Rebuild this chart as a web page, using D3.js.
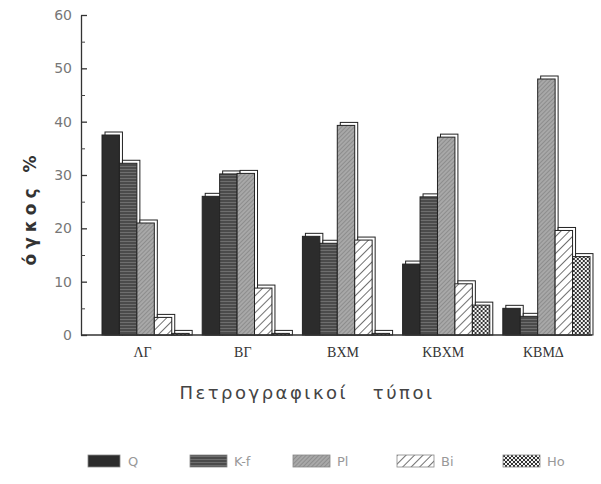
<!DOCTYPE html>
<html>
<head>
<meta charset="utf-8">
<script src="https://cdn.jsdelivr.net/npm/d3@7"></script>
<style>
  body { margin: 0; background: #fff; }
  svg { display: block; }
</style>
</head>
<body>
<div id="chart"></div>
<script>
// ---------- DATA ----------
const categories = ["ΛΓ", "ΒΓ", "ΒΧΜ", "ΚΒΧΜ", "ΚΒΜΔ"];
const minerals = ["Q", "K-f", "Pl", "Bi", "Ho"];
const qValues = [37.5, 26, 18.5, 13.3, 5];
const kfValues = [32.2, 30.2, 17.2, 25.9, 3.5];
const plValues = [21, 30.3, 39.3, 37.1, 48];
const biValues = [3.3, 8.8, 17.8, 9.6, 19.6];
const hoValues = [0.3, 0.3, 0.3, 5.6, 14.7];
const yTicks = [0, 10, 20, 30, 40, 50, 60];
const yMinorTicks = [5, 15, 25, 35, 45, 55];

const series = [qValues, kfValues, plValues, biValues, hoValues];
const table = categories.map((c, i) => ({
  cat: c,
  vals: minerals.map((m, j) => ({ key: m, value: series[j][i] }))
}));

// ---------- LAYOUT ----------
const width = 601;
const height = 484;

const svg = d3.select("#chart").append("svg")
  .attr("width", width)
  .attr("height", height);

const defs = svg.append("defs");

// K-f: dark with fine horizontal lines
const pKf = defs.append("pattern").attr("id", "pat-kf")
  .attr("patternUnits", "userSpaceOnUse").attr("width", 4).attr("height", 3);
pKf.append("rect").attr("width", 4).attr("height", 3).attr("fill", "#4b4b4b");
pKf.append("line").attr("x1", 0).attr("x2", 4).attr("y1", 1.5).attr("y2", 1.5)
  .attr("stroke", "#6e6e6e").attr("stroke-width", 1);

// Pl: mid grey fine diagonal
const pPl = defs.append("pattern").attr("id", "pat-pl")
  .attr("patternUnits", "userSpaceOnUse").attr("width", 3).attr("height", 3)
  .attr("patternTransform", "rotate(45)");
pPl.append("rect").attr("width", 3).attr("height", 3).attr("fill", "#a8a8a8");
pPl.append("line").attr("x1", 0).attr("x2", 0).attr("y1", 0).attr("y2", 3)
  .attr("stroke", "#7a7a7a").attr("stroke-width", 1.2);

// Bi: white with black diagonal hatch
const pBi = defs.append("pattern").attr("id", "pat-bi")
  .attr("patternUnits", "userSpaceOnUse").attr("width", 6).attr("height", 6)
  .attr("patternTransform", "rotate(45)");
pBi.append("rect").attr("width", 6).attr("height", 6).attr("fill", "#fff");
pBi.append("line").attr("x1", 0).attr("x2", 0).attr("y1", 0).attr("y2", 6)
  .attr("stroke", "#333").attr("stroke-width", 1.4);

// Ho: checker dots
const pHo = defs.append("pattern").attr("id", "pat-ho")
  .attr("patternUnits", "userSpaceOnUse").attr("width", 4).attr("height", 4);
pHo.append("rect").attr("width", 4).attr("height", 4).attr("fill", "#f4f4f4");
pHo.append("rect").attr("width", 2).attr("height", 2).attr("fill", "#333");
pHo.append("rect").attr("x", 2).attr("y", 2).attr("width", 2).attr("height", 2).attr("fill", "#333");

const fills = {
  "Q": "#2c2c2c",
  "K-f": "url(#pat-kf)",
  "Pl": "url(#pat-pl)",
  "Bi": "url(#pat-bi)",
  "Ho": "url(#pat-ho)"
};

// scales
const y = d3.scaleLinear().domain([0, 60]).range([335, 15]);
const x0 = d3.scaleBand().domain(categories).range([96, 596])
  .paddingInner(0.13).paddingOuter(0.06);
const x1 = d3.scaleBand().domain(minerals).range([0, x0.bandwidth()]);

// ---------- BARS ----------
const groups = svg.append("g").selectAll("g")
  .data(table).enter().append("g")
  .attr("transform", d => `translate(${x0(d.cat)},0)`);

groups.each(function (d) {
  const g = d3.select(this);
  d.vals.forEach(v => {
    const bx = x1(v.key);
    const by = y(v.value);
    const h = y(0) - by;
    // offset frame (drop shadow look)
    g.append("rect")
      .attr("x", bx + 3).attr("y", by - 3)
      .attr("width", x1.bandwidth()).attr("height", h + 3)
      .attr("fill", "#fff").attr("stroke", "#222").attr("stroke-width", 1);
    g.append("rect")
      .attr("x", bx).attr("y", by)
      .attr("width", x1.bandwidth()).attr("height", h)
      .attr("fill", fills[v.key]).attr("stroke", "#222").attr("stroke-width", 1);
  });
});

// ---------- AXES ----------
const yAxis = svg.append("g")
  .attr("transform", "translate(81,0)")
  .call(d3.axisLeft(y).tickValues(yTicks).tickSizeInner(-6).tickSizeOuter(0).tickPadding(9));
yAxis.select(".domain").attr("stroke", "#333").attr("stroke-width", 1.3);
yAxis.selectAll(".tick line").attr("stroke", "#333").attr("stroke-width", 1.3);
yAxis.selectAll(".tick text")
  .attr("font-family", "DejaVu Sans").attr("font-size", 14).attr("fill", "#777");

const yMinor = svg.append("g")
  .attr("transform", "translate(81,0)")
  .call(d3.axisLeft(y).tickValues(yMinorTicks).tickSizeInner(-4).tickSizeOuter(0).tickFormat(""));
yMinor.select(".domain").remove();
yMinor.selectAll(".tick line").attr("stroke", "#444");

svg.append("line")
  .attr("x1", 81).attr("x2", 592)
  .attr("y1", y(0)).attr("y2", y(0))
  .attr("stroke", "#333").attr("stroke-width", 1.3);

svg.append("g").selectAll("text")
  .data(categories).enter().append("text")
  .attr("x", d => x0(d) + x0.bandwidth() / 2 - 3)
  .attr("y", 357)
  .attr("text-anchor", "middle")
  .attr("font-family", "Liberation Serif")
  .attr("font-size", 14)
  .attr("fill", "#333")
  .text(d => d);

// axis titles
svg.append("text")
  .attr("transform", "translate(36,208) rotate(-90)")
  .attr("text-anchor", "middle")
  .attr("font-family", "DejaVu Sans")
  .attr("font-weight", "bold")
  .attr("font-size", 17)
  .attr("letter-spacing", 5)
  .attr("fill", "#333")
  .text("όγκος %");

svg.append("text")
  .attr("x", 307).attr("y", 399)
  .attr("text-anchor", "middle")
  .attr("font-family", "DejaVu Sans")
  .attr("font-size", 18)
  .attr("letter-spacing", 2.5)
  .attr("fill", "#444")
  .attr("xml:space", "preserve")
  .text("Πετρογραφικοί   τύποι");

// ---------- LEGEND ----------
const legendX = [88, 190, 293, 397, 503];
const legend = svg.append("g").selectAll("g")
  .data(minerals).enter().append("g")
  .attr("transform", (d, i) => `translate(${legendX[i]},455)`);
legend.append("rect")
  .attr("width", (d, i) => i === 0 ? 32 : 37)
  .attr("height", 12)
  .attr("fill", d => fills[d])
  .attr("stroke", "#888").attr("stroke-width", 0.8);
legend.append("text")
  .attr("x", (d, i) => i === 0 ? 40 : 44)
  .attr("y", 11)
  .attr("font-family", "DejaVu Sans")
  .attr("font-size", 13)
  .attr("fill", "#999")
  .text(d => d);
</script>
</body>
</html>
